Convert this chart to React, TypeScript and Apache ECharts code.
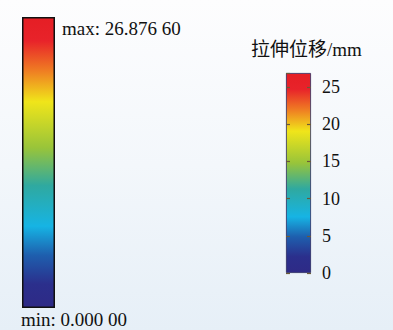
import React, { useEffect, useRef } from "react";
import * as echarts from "echarts";

const maxValue = 26.8766;
const minValue = 0;
const maxLabel = "max: 26.876 60";
const minLabel = "min: 0.000 00";
const legendTitle = "拉伸位移/mm";
const tickInterval = 5;
const barCategories = ["位移"];

const colorStops = [
  { offset: 0, color: "#e51e25" },
  { offset: 0.08, color: "#e8232a" },
  { offset: 0.18, color: "#ef7a23" },
  { offset: 0.29, color: "#f0e51a" },
  { offset: 0.45, color: "#98c43a" },
  { offset: 0.58, color: "#2fa9a0" },
  { offset: 0.72, color: "#16b4e4" },
  { offset: 0.82, color: "#1e5fae" },
  { offset: 0.92, color: "#2b2f8c" },
  { offset: 1, color: "#2e2a86" },
];

export default function App() {
  const ref = useRef<HTMLDivElement>(null);
  useEffect(() => {
    if (!ref.current) return;
    const chart = echarts.init(ref.current, undefined, { renderer: "svg" });
    const grad = () => new echarts.graphic.LinearGradient(0, 0, 0, 1, colorStops);
    const serif = "'Liberation Serif', 'Times New Roman', serif";
    const tick = { show: true, inside: true, length: 4, lineStyle: { color: "#6b5a3a", width: 1.2 } };
    chart.setOption({
      animation: false,
      grid: [
        { left: 22, top: 17, width: 33, height: 291 },
        { left: 286, top: 73, width: 25, height: 200 },
      ],
      xAxis: [
        { type: "category", gridIndex: 0, data: barCategories, show: false },
        { type: "category", gridIndex: 1, data: barCategories, show: false },
      ],
      yAxis: [
        { type: "value", gridIndex: 0, min: minValue, max: maxValue, show: false },
        {
          type: "value", gridIndex: 1, min: 0, max: maxValue, interval: tickInterval,
          position: "left", z: 5,
          axisLine: { show: false },
          axisTick: tick,
          axisLabel: { show: false },
          splitLine: { show: false },
        },
        {
          type: "value", gridIndex: 1, min: 0, max: maxValue, interval: tickInterval,
          position: "right", z: 5,
          axisLine: { show: false },
          axisTick: tick,
          axisLabel: { show: true, margin: 11, color: "#111", fontSize: 18, fontFamily: serif, showMaxLabel: false },
          splitLine: { show: false },
        },
      ],
      series: [
        {
          type: "bar", xAxisIndex: 0, yAxisIndex: 0, data: [maxValue],
          barWidth: "100%", z: 1,
          itemStyle: { color: grad(), borderColor: "#111", borderWidth: 1.5 },
        },
        {
          type: "bar", xAxisIndex: 1, yAxisIndex: 2, data: [maxValue],
          barWidth: "100%", z: 1,
          itemStyle: { color: grad(), borderColor: "#2a2a60", borderWidth: 0.8 },
        },
      ],
      graphic: [
        {
          type: "text", left: 62, top: 19,
          style: { text: maxLabel, fill: "#111", font: `19px ${serif}` },
        },
        {
          type: "text", left: 21, top: 310,
          style: { text: minLabel, fill: "#111", font: `19px ${serif}` },
        },
        {
          type: "text", left: 251, top: 40,
          style: { text: legendTitle, fill: "#111", font: `19px 'Liberation Serif', 'Noto Sans CJK SC', serif` },
        },
      ],
    });
    return () => chart.dispose();
  }, []);
  return (
    <div
      ref={ref}
      style={{
        position: "fixed", left: 0, top: 0, width: 393, height: 330,
        background: "linear-gradient(to bottom, #fdfdfe 0%, #f3f7fb 50%, #e6eff7 100%)",
      }}
    />
  );
}
